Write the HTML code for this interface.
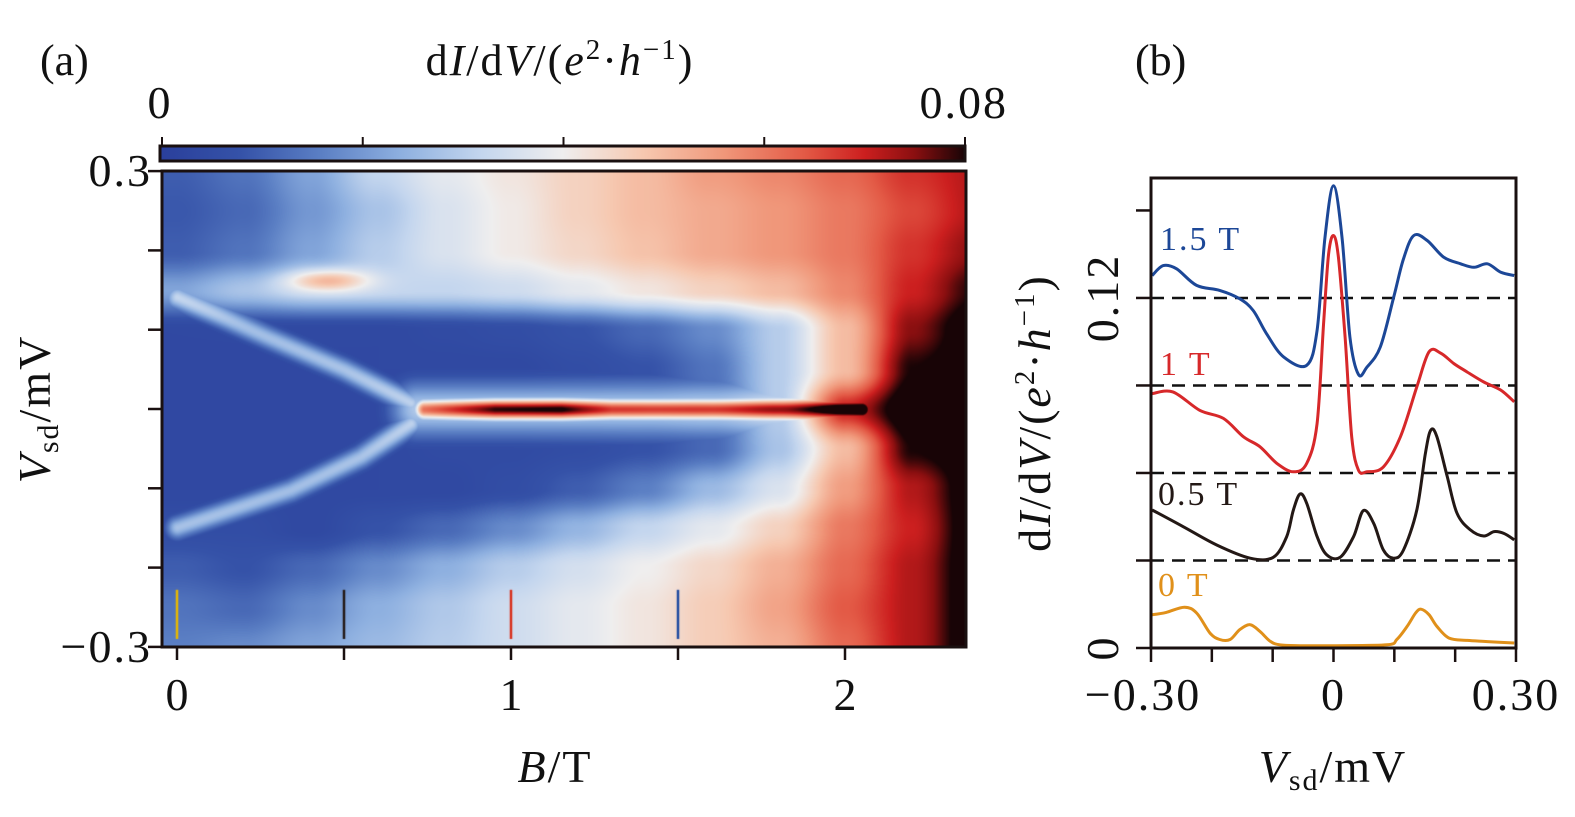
<!DOCTYPE html>
<html><head><meta charset="utf-8">
<style>
html,body{margin:0;padding:0;background:#fff;}
#wrap{position:relative;width:1575px;height:817px;overflow:hidden;background:#fff;}
#heat{position:absolute;left:162px;top:171px;}
svg{position:absolute;left:0;top:0;}
text{font-family:"Liberation Serif","DejaVu Serif",serif;fill:#111;}
.tk{letter-spacing:2px;}
</style></head>
<body>
<div id="wrap">
<canvas id="heat" width="804" height="476"></canvas>
<svg id="svg" width="1575" height="817">
  <defs>
    <linearGradient id="cbgrad" x1="0" x2="1" y1="0" y2="0"></linearGradient>
  </defs>
  <text x="40" y="75" font-size="44">(a)</text>
  <text x="1135" y="75" font-size="44">(b)</text>
  <text x="560" y="75" font-size="44" text-anchor="middle" class="tk">d<tspan font-style="italic">I</tspan>/d<tspan font-style="italic">V</tspan>/(<tspan font-style="italic">e</tspan><tspan dy="-16" font-size="29">2</tspan><tspan dy="16">·</tspan><tspan font-style="italic">h</tspan><tspan dy="-16" font-size="29">−1</tspan><tspan dy="16">)</tspan></text>
  <text x="160" y="118" font-size="46" text-anchor="middle" class="tk">0</text>
  <text x="1008" y="118" font-size="46" text-anchor="end" class="tk">0.08</text>
  <rect x="160" y="146" width="805" height="15" fill="url(#cbgrad)" stroke="#1a1010" stroke-width="3"/>
  <g id="cbticks"></g>
  <rect x="162" y="171" width="804" height="476" fill="none" stroke="#1a1010" stroke-width="3"/>
  <g id="axA"></g>
  <text transform="translate(50,409) rotate(-90)" font-size="46" text-anchor="middle" class="tk"><tspan font-style="italic">V</tspan><tspan font-size="30" dy="8">sd</tspan><tspan dy="-8">/mV</tspan></text>
  <text x="555" y="782" font-size="46" text-anchor="middle" class="tk"><tspan font-style="italic">B</tspan>/T</text>
  <g id="axB"></g>
  <g id="curves"></g>
  <rect x="1151" y="178" width="365" height="470" fill="none" stroke="#1a1010" stroke-width="3"/>
  <text transform="translate(1050,413) rotate(-90)" font-size="46" text-anchor="middle" class="tk">d<tspan font-style="italic">I</tspan>/d<tspan font-style="italic">V</tspan>/(<tspan font-style="italic">e</tspan><tspan dy="-16" font-size="29">2</tspan><tspan dy="16">·</tspan><tspan font-style="italic">h</tspan><tspan dy="-16" font-size="29">−1</tspan><tspan dy="16">)</tspan></text>
  <text x="1333" y="782" font-size="46" text-anchor="middle" class="tk"><tspan font-style="italic">V</tspan><tspan font-size="30" dy="8">sd</tspan><tspan dy="-8">/mV</tspan></text>
  <text x="1160" y="250" font-size="34" class="tk" style="fill:#1c4797">1.5 T</text>
  <text x="1160" y="375" font-size="34" class="tk" style="fill:#d7282a">1 T</text>
  <text x="1158" y="505" font-size="34" class="tk" style="fill:#231815">0.5 T</text>
  <text x="1158" y="596" font-size="34" class="tk" style="fill:#e0901a">0 T</text>
</svg>
</div>
<script>
// ---------- colormap ----------
const cmapVals = [0,0.008,0.016,0.024,0.032,0.040,0.048,0.056,0.064,0.070,0.075,0.080];
const cmapCols = ['#2a3f9b','#3552a8','#5b7fc4','#8eb0e0','#c4d6ee','#efeeee','#f6c8b0','#f0977a','#e35a46','#cc1f1f','#8a0f10','#180406'];

// ---------- heatmap data ----------
const gridB = [0,0.2,0.4,0.6,0.8,1.0,1.2,1.4,1.6,1.8,2.0,2.2,2.4];
const gridV = [0.30,0.25,0.20,0.15,0.10,0.05,0,-0.05,-0.10,-0.15,-0.20,-0.25,-0.30];
const gridVal = [
 [0.010,0.014,0.022,0.032,0.038,0.042,0.046,0.050,0.055,0.058,0.062,0.068,0.072],
 [0.009,0.012,0.020,0.028,0.036,0.041,0.046,0.050,0.053,0.056,0.060,0.066,0.072],
 [0.010,0.014,0.022,0.030,0.036,0.041,0.045,0.049,0.053,0.056,0.060,0.068,0.075],
 [0.022,0.028,0.032,0.032,0.032,0.034,0.038,0.042,0.046,0.050,0.058,0.070,0.080],
 [0.004,0.004,0.004,0.004,0.005,0.006,0.008,0.012,0.018,0.030,0.050,0.075,0.085],
 [0.004,0.004,0.004,0.004,0.004,0.004,0.006,0.008,0.014,0.030,0.050,0.080,0.085],
 [0.004,0.004,0.004,0.004,0.004,0.004,0.004,0.006,0.012,0.030,0.070,0.085,0.085],
 [0.004,0.004,0.004,0.004,0.005,0.005,0.006,0.008,0.012,0.028,0.050,0.080,0.085],
 [0.004,0.004,0.004,0.004,0.004,0.006,0.010,0.016,0.026,0.036,0.055,0.072,0.085],
 [0.006,0.006,0.004,0.008,0.012,0.018,0.025,0.032,0.038,0.046,0.060,0.070,0.085],
 [0.010,0.008,0.012,0.018,0.024,0.030,0.035,0.040,0.045,0.052,0.062,0.072,0.085],
 [0.014,0.012,0.018,0.024,0.029,0.034,0.038,0.042,0.047,0.054,0.064,0.072,0.085],
 [0.016,0.018,0.022,0.026,0.030,0.034,0.038,0.042,0.047,0.052,0.062,0.072,0.085]
];
// ridges: [B, V, amplitude]
const ridgeUpper = [[0,0.141,0.026],[0.27,0.091,0.026],[0.5,0.05,0.027],[0.70,0.008,0.030]];
const ridgeLower = [[0,-0.149,0.026],[0.34,-0.102,0.026],[0.55,-0.06,0.027],[0.70,-0.018,0.030]];
const ridgeArc = [[0,0.145,0.012],[0.3,0.158,0.010],[0.8,0.150,0.006],[1.3,0.13,0.004],[1.7,0.10,0.008],[1.9,0.06,0.020],[1.95,0.02,0.020]];
const ridgeZero = [[0.74,0,0.060],[0.95,0,0.078],[1.15,0,0.080],[1.3,0,0.066],[1.6,0,0.064],[1.9,0,0.066],[2.05,0,0.070]];
const ridgeRim = [[0.72,0,0.028],[1.2,0,0.028],[1.8,0,0.026],[1.95,0,0.02]];
const blobB = 0.45, blobV = 0.163, blobAmp = 0.020;
const markerB = [0, 0.5, 1, 1.5];
const markerColors = ['#e8b800','#231815','#d8301c','#1f4aa0'];

// ---------- line-cut data (panel b) ----------
const cut0V = [-0.298,-0.275,-0.245,-0.225,-0.203,-0.187,-0.170,-0.154,-0.137,-0.121,-0.104,-0.088,-0.055,0,0.088,0.104,0.121,0.135,0.144,0.157,0.170,0.190,0.220,0.253,0.297];
const cut0Y = [0.0114,0.0122,0.0140,0.0120,0.0051,0.0029,0.0029,0.0063,0.0080,0.0057,0.0023,0.0011,0.0008,0.0008,0.0011,0.0029,0.0074,0.0120,0.0133,0.0114,0.0074,0.0034,0.0026,0.0022,0.0017];
const cut05V = [-0.298,-0.247,-0.192,-0.137,-0.099,-0.077,-0.066,-0.055,-0.044,-0.027,-0.011,0.011,0.033,0.049,0.066,0.082,0.099,0.115,0.137,0.151,0.160,0.170,0.187,0.203,0.225,0.247,0.264,0.280,0.297];
const cut05Y = [0.0473,0.0416,0.0353,0.0308,0.0311,0.0382,0.0473,0.0528,0.0496,0.0382,0.0319,0.0311,0.0382,0.0471,0.0428,0.0336,0.0308,0.0336,0.0473,0.0667,0.0747,0.0724,0.0587,0.0462,0.0405,0.0384,0.0399,0.0393,0.0371];
const cut1V = [-0.298,-0.264,-0.220,-0.181,-0.148,-0.121,-0.093,-0.066,-0.044,-0.027,-0.016,-0.008,0,0.008,0.019,0.030,0.041,0.055,0.082,0.110,0.137,0.157,0.176,0.198,0.220,0.247,0.275,0.297];
const cut1Y = [0.0872,0.0878,0.0815,0.0787,0.0724,0.0690,0.0633,0.0604,0.0633,0.0770,0.1123,0.1351,0.1414,0.1340,0.1066,0.0724,0.0610,0.0604,0.0621,0.0724,0.0895,0.1015,0.1011,0.0975,0.0946,0.0912,0.0884,0.0844];
const cut15V = [-0.298,-0.280,-0.258,-0.225,-0.187,-0.154,-0.132,-0.110,-0.082,-0.044,-0.027,-0.014,0,0.014,0.027,0.041,0.055,0.077,0.099,0.115,0.132,0.154,0.181,0.209,0.231,0.253,0.275,0.297];
const cut15Y = [0.1277,0.1311,0.1300,0.1243,0.1226,0.1197,0.1157,0.1077,0.0998,0.0969,0.1089,0.1408,0.1585,0.1408,0.1066,0.0938,0.0963,0.1032,0.1203,0.1334,0.1414,0.1397,0.1340,0.1317,0.1305,0.1317,0.1288,0.1277];
const dashLevels = [0.03,0.06,0.09,0.12];
const bYTicks = [0,0.03,0.06,0.09,0.12,0.15];
const bYLabels = ['0','','','','0.12',''];
const bXTicks = [-0.3,-0.2,-0.1,0,0.1,0.2,0.3];
const bXLabels = ['−0.30','','','0','','','0.30'];
const aXTicks = [0,0.5,1,1.5,2];
const aXLabels = ['0','','1','','2'];
const aYTicks = [0.3,0.2,0.1,0,-0.1,-0.2,-0.3];
const aYLabels = ['0.3','','','','','','−0.3'];
const cbTicks = [0,0.02,0.04,0.06,0.08];

// ---------- scales ----------
const aX = b => 177 + b*334;
const aY = v => 409 - v*793;
const bX = v => 1333.5 + v*608.3;
const bY = d => 648 - d*2917;
const cbX = d => 162 + d/0.08*803;

const NS='http://www.w3.org/2000/svg';
function mk(tag, attrs, parent){const e=document.createElementNS(NS,tag);for(const k in attrs)e.setAttribute(k,attrs[k]);parent.appendChild(e);return e;}

const grad=document.getElementById('cbgrad');
cmapVals.forEach((v,i)=>{mk('stop',{offset:(v/0.08*100)+'%','stop-color':cmapCols[i]},grad);});
const cbt=document.getElementById('cbticks');
cbTicks.forEach(t=>{const l=mk('line',{x1:cbX(t),x2:cbX(t),y1:137,y2:146,stroke:'#1a1010','stroke-width':2},cbt);

});

// ---------- heatmap ----------
const hexs=cmapCols.map(h=>[parseInt(h.substr(1,2),16),parseInt(h.substr(3,2),16),parseInt(h.substr(5,2),16)]);
function cmap(v){v=Math.max(0,Math.min(0.08,v));
 for(let i=1;i<cmapVals.length;i++){if(v<=cmapVals[i]){const t=(v-cmapVals[i-1])/(cmapVals[i]-cmapVals[i-1]);const a=hexs[i-1],b=hexs[i];return [a[0]+(b[0]-a[0])*t,a[1]+(b[1]-a[1])*t,a[2]+(b[2]-a[2])*t];}}
 return hexs[hexs.length-1];}
function gridAt(B,V){
 let fi=(B-gridB[0])/(gridB[1]-gridB[0]); fi=Math.max(0,Math.min(gridB.length-1.0001,fi));
 let fj=(gridV[0]-V)/(gridV[0]-gridV[1]); fj=Math.max(0,Math.min(gridV.length-1.0001,fj));
 const i=Math.floor(fi),j=Math.floor(fj),ti=fi-i,tj=fj-j;
 const s=x=>x*x*(3-2*x); const a=s(ti),c=s(tj);
 const v00=gridVal[j][i],v01=gridVal[j][i+1],v10=gridVal[j+1][i],v11=gridVal[j+1][i+1];
 return (v00*(1-a)+v01*a)*(1-c)+(v10*(1-a)+v11*a)*c;}
function ridgePx(r){return r.map(p=>[aX(p[0])-162,aY(p[1])-171,p[2]]);}
const ridges=[[ridgePx(ridgeUpper),8],[ridgePx(ridgeLower),8],[ridgePx(ridgeArc),12],[ridgePx(ridgeZero),8],[ridgePx(ridgeRim),20]];
function ridgeVal(px,py,pts,w){let best=0;
 for(let k=0;k<pts.length-1;k++){const a=pts[k],b=pts[k+1];const dx=b[0]-a[0],dy=b[1]-a[1];
  let t=((px-a[0])*dx+(py-a[1])*dy)/(dx*dx+dy*dy);t=Math.max(0,Math.min(1,t));
  const qx=a[0]+dx*t-px,qy=a[1]+dy*t-py;const d2=qx*qx+qy*qy;
  const amp=a[2]+(b[2]-a[2])*t;const v=amp*Math.exp(-d2/(2*w*w));if(v>best)best=v;}
 return best;}
(function(){
 const cv=document.getElementById('heat');const ctx=cv.getContext('2d');
 const W=cv.width,H=cv.height;const img=ctx.createImageData(W,H);
 const bx=aX(blobB)-162,by=aY(blobV)-171;
 for(let y=0;y<H;y++){const V=(409-171-y)/793;
  for(let x=0;x<W;x++){const B=(x+162-177)/334;
   let v=gridAt(B,V);
   let r=0;for(const [pts,w] of ridges){const q=ridgeVal(x,y,pts,w);if(q>r)r=q;}
   v=Math.max(v,Math.min(0.085,v*0.3+r));
   const ddx=(x-bx)/30,ddy=(y-by)/8;v+=blobAmp*Math.exp(-(ddx*ddx+ddy*ddy)/2);
   const c=cmap(v);const o=(y*W+x)*4;img.data[o]=c[0];img.data[o+1]=c[1];img.data[o+2]=c[2];img.data[o+3]=255;}}
 ctx.putImageData(img,0,0);
 markerB.forEach((b,i)=>{ctx.strokeStyle=markerColors[i];ctx.lineWidth=2.5;ctx.beginPath();ctx.moveTo(aX(b)-162,aY(-0.228)-171);ctx.lineTo(aX(b)-162,aY(-0.29)-171);ctx.stroke();});
})();

// ---------- panel a axes ----------
const axA=document.getElementById('axA');
aXTicks.forEach((b,i)=>{const l=mk('line',{x1:aX(b),x2:aX(b),y1:647,y2:660,stroke:'#1a1010','stroke-width':2.5},axA);
 
 
 if(aXLabels[i]){const t=mk('text',{x:aX(b),y:710,'font-size':46,'text-anchor':'middle'},axA);t.textContent=aXLabels[i];
 
 }});
aYTicks.forEach((v,i)=>{const l=mk('line',{x1:148,x2:162,y1:aY(v),y2:aY(v),stroke:'#1a1010','stroke-width':2.5},axA);
 
 
 if(aYLabels[i]){const t=mk('text',{x:152,y:aY(v)+15,'font-size':46,'text-anchor':'end','class':'tk'},axA);t.textContent=aYLabels[i];
 
 }});

// ---------- panel b ----------
const axB=document.getElementById('axB');
bYTicks.forEach((d,i)=>{const l=mk('line',{x1:1136,x2:1151,y1:bY(d),y2:bY(d),stroke:'#1a1010','stroke-width':2.5},axB);
 
 
 if(bYLabels[i]){const t=mk('text',{transform:'translate(1118,'+bY(d)+') rotate(-90)','font-size':46,'text-anchor':'middle','class':'tk'},axB);t.textContent=bYLabels[i];
 
 }});
bXTicks.forEach((v,i)=>{const l=mk('line',{x1:bX(v),x2:bX(v),y1:648,y2:662,stroke:'#1a1010','stroke-width':2.5},axB);
 
 
 if(bXLabels[i]){const t=mk('text',{x:bX(v)+(i==0?-8:0),y:710,'font-size':46,'text-anchor':'middle','class':'tk'},axB);t.textContent=bXLabels[i];
 
 }});
const cg=document.getElementById('curves');
dashLevels.forEach(d=>{const l=mk('line',{x1:1151,x2:1516,y1:bY(d),y2:bY(d),stroke:'#111','stroke-width':2.5,'stroke-dasharray':'13 8'},cg);
 
 });
function curve(xs,ys,color,name){
 const P=xs.map((v,i)=>[bX(v),bY(ys[i])]);
 let d='M'+P[0][0].toFixed(1)+' '+P[0][1].toFixed(1);
 for(let i=0;i<P.length-1;i++){const p0=P[Math.max(0,i-1)],p1=P[i],p2=P[i+1],p3=P[Math.min(P.length-1,i+2)];
  const c1=[p1[0]+(p2[0]-p0[0])/6,p1[1]+(p2[1]-p0[1])/6],c2=[p2[0]-(p3[0]-p1[0])/6,p2[1]-(p3[1]-p1[1])/6];
  d+=' C'+c1[0].toFixed(1)+' '+c1[1].toFixed(1)+' '+c2[0].toFixed(1)+' '+c2[1].toFixed(1)+' '+p2[0].toFixed(1)+' '+p2[1].toFixed(1);}
 const p=mk('path',{d:d,fill:'none',stroke:color,'stroke-width':3,'stroke-linejoin':'round'},cg);
 
 }
curve(cut0V,cut0Y,'#e0901a','curve-0T');
curve(cut05V,cut05Y,'#231815','curve-0-5T');
curve(cut1V,cut1Y,'#d7282a','curve-1T');
curve(cut15V,cut15Y,'#1c4797','curve-1-5T');
</script>
</body></html>
